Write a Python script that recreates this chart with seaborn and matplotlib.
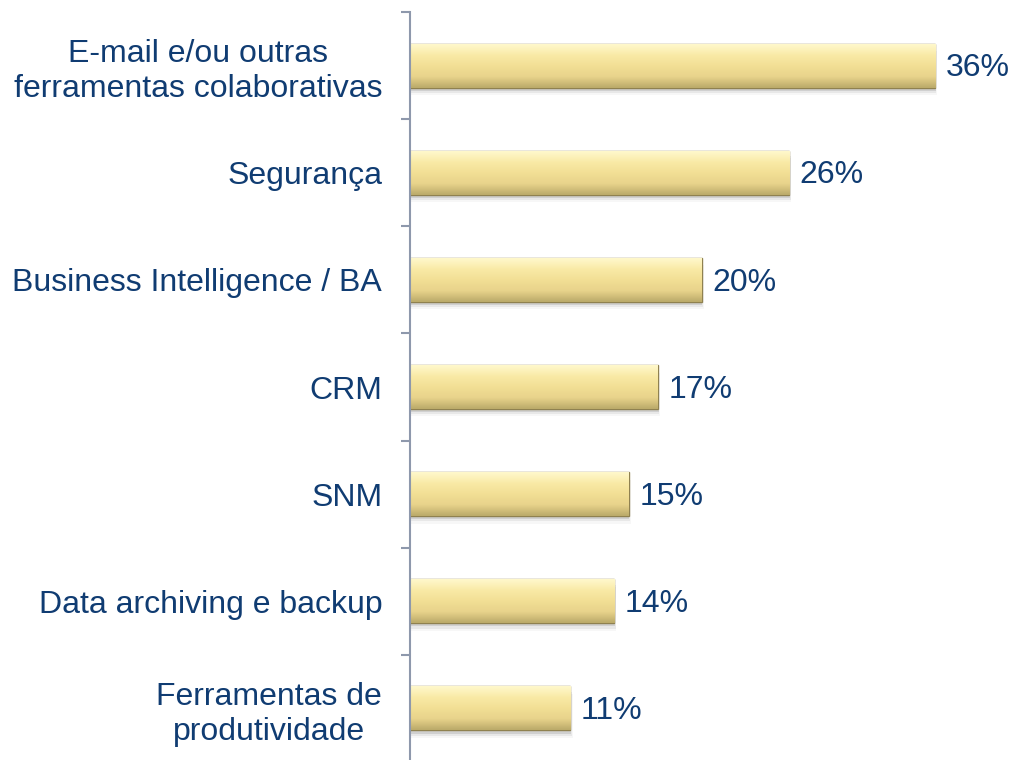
import numpy as np
import pandas as pd
import matplotlib
matplotlib.use("Agg")
import matplotlib.pyplot as plt
import seaborn as sns

categories = [
    "E-mail e/ou outras\nferramentas colaborativas",
    "Segurança",
    "Business Intelligence / BA",
    "CRM",
    "SNM",
    "Data archiving e backup",
    "Ferramentas de\nprodutividade",
]
values = [36, 26, 20, 17, 15, 14, 11]
value_labels = ["36%", "26%", "20%", "17%", "15%", "14%", "11%"]

df = pd.DataFrame({"categoria": categories, "pct": values})

sns.set_style("white")
plt.rcParams["font.family"] = ["Liberation Sans", "DejaVu Sans"]

text_color = "#103C72"
axis_color = "#8E98AC"

fig = plt.figure(figsize=(10.1, 7.6), dpi=100)
ax = fig.add_axes([410 / 1010, -2 / 760, 600 / 1010, 750 / 760])

sns.barplot(data=df, y="categoria", x="pct", orient="h", color="#F3E29A",
            edgecolor="#8F8150", linewidth=1.0, width=0.41, saturation=1, ax=ax)

# gradient + soft shadow on each bar
grad = np.linspace(0, 1, 64).reshape(-1, 1)
cmap = matplotlib.colors.LinearSegmentedColormap.from_list(
    "bar", ["#FFF8CC", "#F9EAA6", "#F2DF95", "#E8D38B", "#BBAA6A"])
for p in list(ax.patches):
    x0, y0 = p.get_x(), p.get_y()
    w, h = p.get_width(), p.get_height()
    for k, a in enumerate([0.10, 0.06, 0.03]):
        sh = matplotlib.patches.Rectangle((x0 + 0.05, y0 + 0.03 + 0.02 * k), w + 0.05 * k, h,
                                          facecolor="#000000", alpha=a,
                                          edgecolor="none", zorder=p.get_zorder() - 0.5)
        ax.add_patch(sh)
    im = ax.imshow(grad, extent=(x0, x0 + w, y0 + h, y0), aspect="auto",
                   cmap=cmap, zorder=p.get_zorder() + 0.1, interpolation="bicubic")
    im.set_clip_path(p)
ax.set_xlim(0, 600 / (525 / 36))
ax.set_ylim(6.5, -0.5)

for i, (v, lab) in enumerate(zip(values, value_labels)):
    ax.annotate(lab, xy=(v, i), xytext=(7.5, -2), textcoords="offset points",
                ha="left", va="center", fontsize=23, color=text_color)

ax.set_xlabel("")
ax.set_ylabel("")
ax.set_xticks([])
for s in ["top", "right", "bottom"]:
    ax.spines[s].set_visible(False)
ax.spines["left"].set_color(axis_color)
ax.spines["left"].set_linewidth(1.5)

ax.set_yticks(np.arange(-0.5, 7, 1), minor=True)
ax.tick_params(axis="y", which="minor", length=6.5, width=1.5, color=axis_color, direction="out", left=True)
ax.tick_params(axis="y", which="major", length=0, pad=20, labelsize=23, labelcolor=text_color)
for t in ax.get_yticklabels():
    t.set_multialignment("center")

fig.savefig("out.png", dpi=100)
